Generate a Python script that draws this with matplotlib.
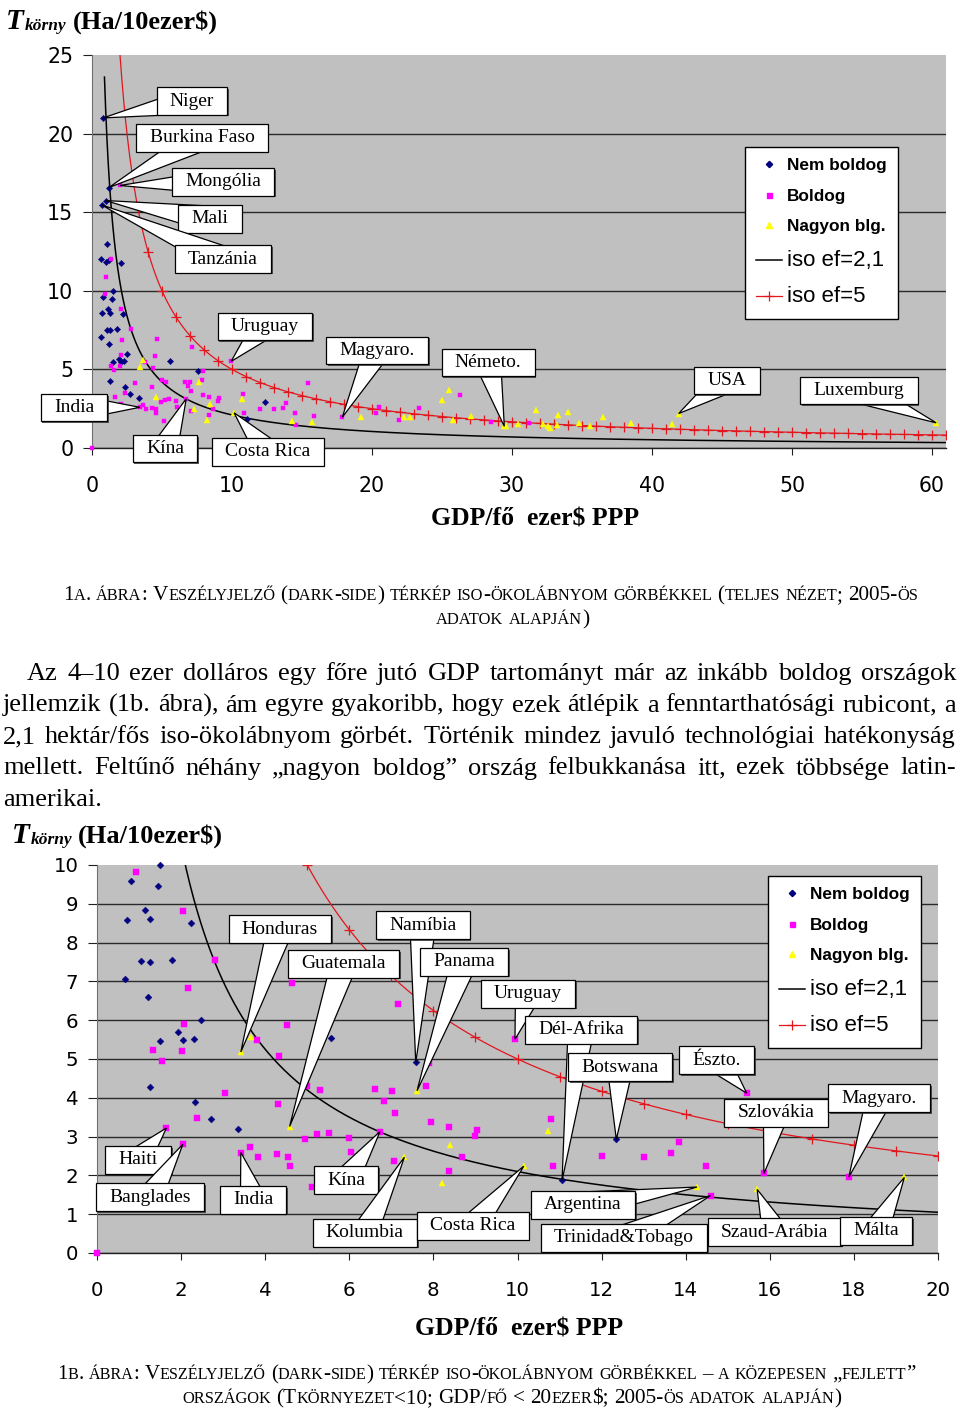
import numpy as np
import matplotlib
matplotlib.use("Agg")
import matplotlib.pyplot as plt
from matplotlib.lines import Line2D
from matplotlib.patches import Polygon
from matplotlib.path import Path
import matplotlib.patheffects as pe

plt.rcParams['font.family'] = ['Liberation Sans', 'DejaVu Sans']
SERIF = ['Liberation Serif', 'DejaVu Serif']
TICKFONT = ['DejaVu Sans']

# ---------------- data ----------------
nem_boldog_gdp = [0.81, 1.21, 0.98, 0.69, 1.09, 0.62, 1.00, 1.21, 2.05,
                  0.80, 1.49, 1.45, 0.71, 1.14, 1.25, 2.24, 1.04, 1.26, 1.79, 0.67,
                  1.21, 2.48, 1.93, 1.51, 2.05, 2.31, 5.57, 1.26, 2.34, 2.72, 3.35,
                  7.58, 11.06, 12.35]
nem_boldog_t = [21.0, 16.57, 15.74, 15.46, 12.97, 12.0, 11.85, 11.95, 11.77,
                9.59, 9.99, 9.46, 8.58, 8.84, 8.60, 8.51, 7.52, 7.50, 7.56, 7.07,
                6.59, 6.0, 5.69, 5.46, 5.49, 5.51, 5.53, 4.29, 3.88, 3.46, 3.20,
                4.91, 1.87, 2.93]

boldog_gdp = [2.0, 1.33, 0.98,
              0.92, 2.05, 2.81, 2.17, 4.64, 2.08, 4.51, 3.80, 1.34, 2.02, 1.54, 4.34,
              3.04, 4.31, 2.37, 1.65, 2.04, 3.42, 3.64, 3.83, 4.27, 4.54, 4.58, 4.99,
              5.30, 4.94, 5.24, 5.52, 5.12, 0.0,
              7.17, 7.90, 7.83, 6.61, 7.01, 6.83, 7.09, 7.95, 8.38, 9.04, 9.0, 6.73,
              5.99, 6.04, 7.06, 8.67, 8.37, 9.94, 10.80, 10.84, 12.0, 13.0,
              13.84, 13.64, 14.49, 14.59, 15.45, 15.86, 17.88,
              20.5, 20.3, 21.95, 23.36, 26.3, 28.5, 31.2]
boldog_t = [16.7, 12.0, 10.87,
            9.82, 8.82, 7.54, 6.84, 6.96, 5.89, 5.87, 5.48, 5.22, 5.21, 4.95, 5.09,
            4.12, 3.85, 3.48, 3.22, 2.80, 2.59, 2.72, 2.48, 2.54, 2.48, 2.23, 4.31,
            4.19, 2.93, 3.07, 3.09, 1.69, 0.0,
            6.41, 4.89, 4.30, 4.23, 4.18, 3.93, 3.61, 3.37, 3.24, 3.18, 3.02, 3.13,
            2.96, 2.60, 2.36, 2.47, 2.12, 5.51, 3.45, 2.23, 2.51, 2.47,
            2.85, 2.57, 2.23, 1.48, 4.12, 2.05, 1.96,
            2.61, 2.23, 1.76, 2.55, 3.40, 1.63, 1.60]

nagyon_gdp = [3.42, 3.66, 4.58, 7.61, 7.31, 8.40, 8.20, 10.15, 10.73, 14.27, 15.70, 19.2,
              22.3, 22.7, 25.0, 25.5, 25.8, 27.1, 29.45, 29.6, 30.45, 31.7, 32.2, 32.6,
              32.7, 33.3, 33.98, 33.2, 34.8, 35.6, 36.5, 38.5, 41.4, 41.9, 60.3]
nagyon_t = [5.18, 5.57, 3.26, 4.18, 2.47, 2.79, 1.80, 2.24, 3.14, 1.70, 1.64, 1.95,
            1.98, 1.98, 3.04, 3.68, 1.81, 2.06, 1.38, 1.38, 1.55, 2.44, 1.55, 1.42,
            1.28, 2.08, 2.30, 1.45, 1.60, 1.38, 1.98, 1.60, 1.55, 2.19, 1.60]

series_labels = ['Nem boldog', 'Boldog', 'Nagyon blg.']
iso_ef = [2.1, 5.0]              # ha / fő
iso_labels = ['iso ef=2,1', 'iso ef=5']
iso_start_gdp = [0.89, 2.0]
iso_marker_gdp = list(range(4, 62))

top_xticks = [0, 10, 20, 30, 40, 50, 60]
top_yticks = [0, 5, 10, 15, 20, 25]
bot_xticks = [0, 2, 4, 6, 8, 10, 12, 14, 16, 18, 20]
bot_yticks = [0, 1, 2, 3, 4, 5, 6, 7, 8, 9, 10]

top_callout_labels = ['Niger', 'Burkina Faso', 'Mongólia', 'Mali', 'Tanzánia', 'Uruguay',
                      'Magyaro.', 'Németo.', 'USA', 'Luxemburg', 'India', 'Kína', 'Costa Rica']
top_callout_points = [(0.81, 21.0), (1.21, 16.57), (2.0, 16.7), (0.98, 15.74), (0.69, 15.46),
                      (9.94, 5.51), (17.88, 1.96), (29.45, 1.38), (41.9, 2.19), (60.3, 1.6),
                      (3.42, 2.59), (6.73, 3.13), (10.15, 2.24)]
bot_callout_labels = ['Honduras', 'Guatemala', 'Namíbia', 'Panama', 'Uruguay', 'Dél-Afrika',
                      'Botswana', 'Észto.', 'Szlovákia', 'Magyaro.', 'Haiti', 'Banglades',
                      'India', 'Kína', 'Kolumbia', 'Costa Rica', 'Argentina',
                      'Trinidad&Tobago', 'Szaud-Arábia', 'Málta']
bot_callout_points = [(3.42, 5.18), (4.58, 3.26), (7.58, 4.91), (7.61, 4.18), (9.94, 5.51),
                      (11.06, 1.87), (12.35, 2.93), (15.45, 4.12), (15.86, 2.05), (17.88, 1.96),
                      (1.65, 3.22), (2.04, 2.80), (3.42, 2.59), (6.73, 3.13), (7.31, 2.47),
                      (10.15, 2.24), (14.27, 1.70), (14.59, 1.48), (15.70, 1.64), (19.2, 1.95)]

# ---------------- layout ----------------
top_callout_boxes = [(7.14, 22.07), (7.86, 19.73), (9.36, 16.93), (8.43, 14.57), (9.36, 12.02),
                     (12.36, 7.74), (20.36, 6.21), (28.29, 5.44), (45.36, 4.3), (54.79, 3.66),
                     (-1.29, 2.57), (5.21, -0.04), (12.57, -0.24)]
bot_callout_boxes = [(4.35, 8.35), (5.87, 7.45), (7.75, 8.45), (8.73, 7.5), (10.25, 6.68),
                     (11.51, 5.75), (12.44, 4.79), (14.74, 4.97), (16.15, 3.61), (18.6, 3.99),
                     (0.98, 2.4), (1.26, 1.44), (3.71, 1.37), (5.92, 1.88), (6.37, 0.52),
                     (8.94, 0.70), (11.56, 1.24), (12.53, 0.39), (16.12, 0.54), (18.53, 0.57)]

NAVY = '#000080'
MAG = '#ff00ff'
YEL = '#ffff00'
RED = '#e3161d'
BG = '#c0c0c0'

W, H = 960, 1410
fig = plt.figure(figsize=(W / 100, H / 100), dpi=100)
fig.patch.set_facecolor('white')
R = fig.canvas.get_renderer()

ov = fig.add_axes([0, 0, 1, 1], zorder=0)
ov.set_xlim(0, W)
ov.set_ylim(H, 0)
ov.axis('off')


def px_axes(l, t, r, b):
    return fig.add_axes([l / W, 1 - b / H, (r - l) / W, (b - t) / H], zorder=1)


def box_style(x0, y0, width, height, mutation_size):
    padx = 0.68 * mutation_size
    pady = 0.27 * mutation_size
    x0 -= padx
    y0 -= pady
    x1 = x0 + width + 2 * padx
    y1 = y0 + height + 2 * pady
    return Path([(x0, y0), (x1, y0), (x1, y1), (x0, y1), (x0, y0)],
                [Path.MOVETO, Path.LINETO, Path.LINETO, Path.LINETO, Path.CLOSEPOLY])


def style_axes(ax, xmax, ymax, xticks, yticks, fs, xpad, ypad, ylen):
    ax.set_facecolor(BG)
    ax.set_xlim(0, xmax)
    ax.set_ylim(0, ymax)
    ax.set_xticks(xticks)
    ax.set_xticklabels([str(v) for v in xticks], family=TICKFONT)
    ax.set_yticks(yticks)
    ax.set_yticklabels([str(v) for v in yticks], family=TICKFONT)
    ax.set_axisbelow(True)
    ax.yaxis.grid(True, color='#2a2a2a', lw=1.0)
    gl = ax.yaxis.get_gridlines()
    gl[-1].set_visible(False)
    for s in ['top', 'right']:
        ax.spines[s].set_visible(False)
    ax.spines['left'].set_color('#707070')
    ax.spines['left'].set_linewidth(0.8)
    ax.spines['bottom'].set_color('#202020')
    ax.spines['bottom'].set_linewidth(1.0)
    ax.tick_params(axis='y', direction='out', length=ylen, width=0.8, color='#202020',
                   pad=ypad, labelsize=fs)
    ax.tick_params(axis='x', direction='out', length=5, width=0.8, color='#202020',
                   pad=xpad, labelsize=fs)


def draw_data(ax, xmax, ymax, ms):
    for ef, g0 in zip(iso_ef, iso_start_gdp):
        g = np.geomspace(g0, xmax, 600)
        if ef < 3:
            ax.plot(g, 10 * ef / g, color='black', lw=1.1, zorder=2)
        else:
            ax.plot(g, 10 * ef / g, color=RED, lw=0.9, zorder=2)
            m = np.array(iso_marker_gdp, dtype=float)
            m = m[m <= xmax]
            ax.plot(m, 10 * ef / m, ls='none', marker='+', ms=7, mew=0.9, color=RED, zorder=2)
    specs = [(nem_boldog_gdp, nem_boldog_t, 'D', NAVY, ms[0]),
             (boldog_gdp, boldog_t, 's', MAG, ms[1]),
             (nagyon_gdp, nagyon_t, '^', YEL, ms[2])]
    for xs, ts, mk, col, size in specs:
        xs = np.array(xs)
        ts = np.array(ts)
        msk = (xs <= xmax) & (ts <= ymax)
        ax.plot(xs[msk], ts[msk], ls='none', marker=mk, ms=size, mfc=col, mec=col,
                mew=0.3, zorder=3, clip_on=False)


def callouts(ax, labels, points, boxes, fs=14, half=13):
    z = 10
    for lab, p, b in zip(labels, points, boxes):
        tx, ty = ax.transData.transform(p)
        bx, by = ax.transData.transform(b)
        dx, dy = tx - bx, ty - by
        L = np.hypot(dx, dy)
        nx, ny = -dy / L, dx / L
        pts = [(bx + nx * half, by + ny * half), (bx - nx * half, by - ny * half), (tx, ty)]
        pts = ax.transData.inverted().transform(pts)
        poly = Polygon(pts, closed=True, fc='white', ec='black', lw=0.9, zorder=z,
                       clip_on=False, joinstyle='miter')
        ax.add_patch(poly)
        t = ax.text(b[0], b[1], lab, ha='center', va='center', fontsize=fs, family=SERIF,
                    zorder=z + 1, clip_on=False,
                    bbox=dict(boxstyle=box_style, fc='white', ec='black', lw=0.9))
        t.get_bbox_patch().set_path_effects(
            [pe.SimplePatchShadow(offset=(1.2, -1.2), shadow_rgbFace='#303030', alpha=0.8),
             pe.Normal()])
        z += 2


def legend(ax, x, y):
    handles = [Line2D([], [], ls='none', marker='D', ms=3.2, mfc=NAVY, mec=NAVY),
               Line2D([], [], ls='none', marker='s', ms=3.6, mfc=MAG, mec=MAG),
               Line2D([], [], ls='none', marker='^', ms=4.2, mfc=YEL, mec=YEL),
               Line2D([], [], color='black', lw=1.1),
               Line2D([], [], color=RED, lw=0.9, marker='+', ms=7, mew=0.9)]
    leg = ax.legend(handles, series_labels + iso_labels, loc='upper left',
                    bbox_to_anchor=(x / W, 1 - y / H), bbox_transform=fig.transFigure,
                    frameon=True, fancybox=False, edgecolor='black', framealpha=1,
                    borderpad=0.65, labelspacing=0.9, handlelength=1.5, handletextpad=0.3,
                    borderaxespad=0, numpoints=1, prop={'size': 12.4})
    for i, t in enumerate(leg.get_texts()):
        if i < 3:
            t.set_fontweight('bold')
            t.set_fontsize(12.4)
        else:
            t.set_fontsize(16)
    leg.get_frame().set_linewidth(1.0)
    leg.set_zorder(200)


def width(t):
    return t.get_window_extent(R).width


def ytitle(x, y, xparen):
    t1 = ov.text(x, y, 'T', fontsize=21, fontstyle='italic', fontweight='bold',
                 family=SERIF, va='baseline')
    w = width(t1)
    ov.text(x + w + 1, y + 1, 'körny', fontsize=12.5, fontstyle='italic',
            fontweight='bold', family=SERIF, va='baseline')
    ov.text(xparen, y, '(Ha/10ezer$)', fontsize=19, fontweight='bold', family=SERIF,
            va='baseline')


def smallcaps(y, text, big, small, x0=None, x1=None, xc=None):
    runs = []
    for ch in text:
        kind = 'sp' if ch == ' ' else ('s' if ch.islower() else 'b')
        if runs and runs[-1][0] == kind and kind != 'sp':
            runs[-1][1] += ch
        else:
            runs.append([kind, ch])

    def layout(scale):
        arts, ws = [], []
        for kind, s in runs:
            if kind == 'sp':
                arts.append(None)
                ws.append(0.25 * big * scale * 100 / 72)
            else:
                fs = (big if kind == 'b' else small) * scale
                t = ov.text(0, y, s.upper(), fontsize=fs, family=SERIF, va='baseline')
                arts.append(t)
                ws.append(width(t))
        return arts, ws

    arts, ws = layout(1.0)
    total = sum(ws)
    if x0 is not None and x1 is not None:
        sc = (x1 - x0) / total
        for a in arts:
            if a is not None:
                a.remove()
        arts, ws = layout(sc)
        start = x0
    else:
        start = xc - total / 2
    xx = start
    for a, w in zip(arts, ws):
        if a is not None:
            a.set_x(xx)
        xx += w


def justify(y, text, x0, x1, fs, last=False):
    words = text.split()
    arts = [ov.text(0, y, w, fontsize=fs, family=SERIF, va='baseline') for w in words]
    ws = [width(a) for a in arts]
    if last or len(words) == 1:
        gap = 0.25 * fs * 100 / 72
    else:
        gap = (x1 - x0 - sum(ws)) / (len(words) - 1)
    xx = x0
    for a, w in zip(arts, ws):
        a.set_x(xx)
        xx += w + gap


# ---------------- top chart ----------------
ax1 = px_axes(92, 55, 946, 448)
style_axes(ax1, 61, 25, top_xticks, top_yticks, fs=14.8, xpad=15, ypad=7, ylen=6.5)
draw_data(ax1, 61, 25, ms=(3.2, 3.4, 4.0))
callouts(ax1, top_callout_labels, top_callout_points, top_callout_boxes)
legend(ax1, 745, 147)
ytitle(6, 29, 73)
ov.text(535, 519, 'GDP/fő  ezer$ PPP', fontsize=18.5, fontweight='bold', family=SERIF,
        ha='center', va='center')

# ---------------- bottom chart ----------------
ax2 = px_axes(97, 865, 938, 1253)
style_axes(ax2, 20, 10, bot_xticks, bot_yticks, fs=14.2, xpad=15, ypad=7, ylen=6.5)
draw_data(ax2, 20, 10, ms=(3.5, 3.8, 4.4))
callouts(ax2, bot_callout_labels, bot_callout_points, bot_callout_boxes)
legend(ax2, 768, 876)
ytitle(12, 843, 78)
ov.text(519, 1329, 'GDP/fő  ezer$ PPP', fontsize=18.5, fontweight='bold', family=SERIF,
        ha='center', va='center')

# ---------------- captions and paragraph ----------------
smallcaps(600, '1a. ábra: Veszélyjelző (dark-side) térkép iso-ökolábnyom görbékkel '
               '(teljes nézet; 2005-ös', 13, 10, x0=63, x1=920)
smallcaps(624, 'adatok alapján)', 13, 10, x0=436, x1=590)

para = ['Az 4–10 ezer dolláros egy főre jutó GDP tartományt már az inkább boldog országok',
        'jellemzik (1b. ábra), ám egyre gyakoribb, hogy ezek átlépik a fenntarthatósági rubicont, a',
        '2,1 hektár/fős iso-ökolábnyom görbét. Történik mindez javuló technológiai hatékonyság',
        'mellett. Feltűnő néhány „nagyon boldog” ország felbukkanása itt, ezek többsége latin-',
        'amerikai.']
para_y = [680, 711.5, 743, 774.5, 806]
for i, (line, yy) in enumerate(zip(para, para_y)):
    justify(yy, line, 27 if i == 0 else 3, 956, 19, last=(i == len(para) - 1))

smallcaps(1379, '1b. ábra: Veszélyjelző (dark-side) térkép iso-ökolábnyom görbékkel – '
                'a közepesen „fejlett”', 13, 10, x0=57, x1=918)
smallcaps(1403, 'országok (Tkörnyezet<10; GDP/fő < 20ezer$; 2005-ös adatok alapján)',
          13, 10, x0=182, x1=842)

fig.savefig('out.png', dpi=100)
